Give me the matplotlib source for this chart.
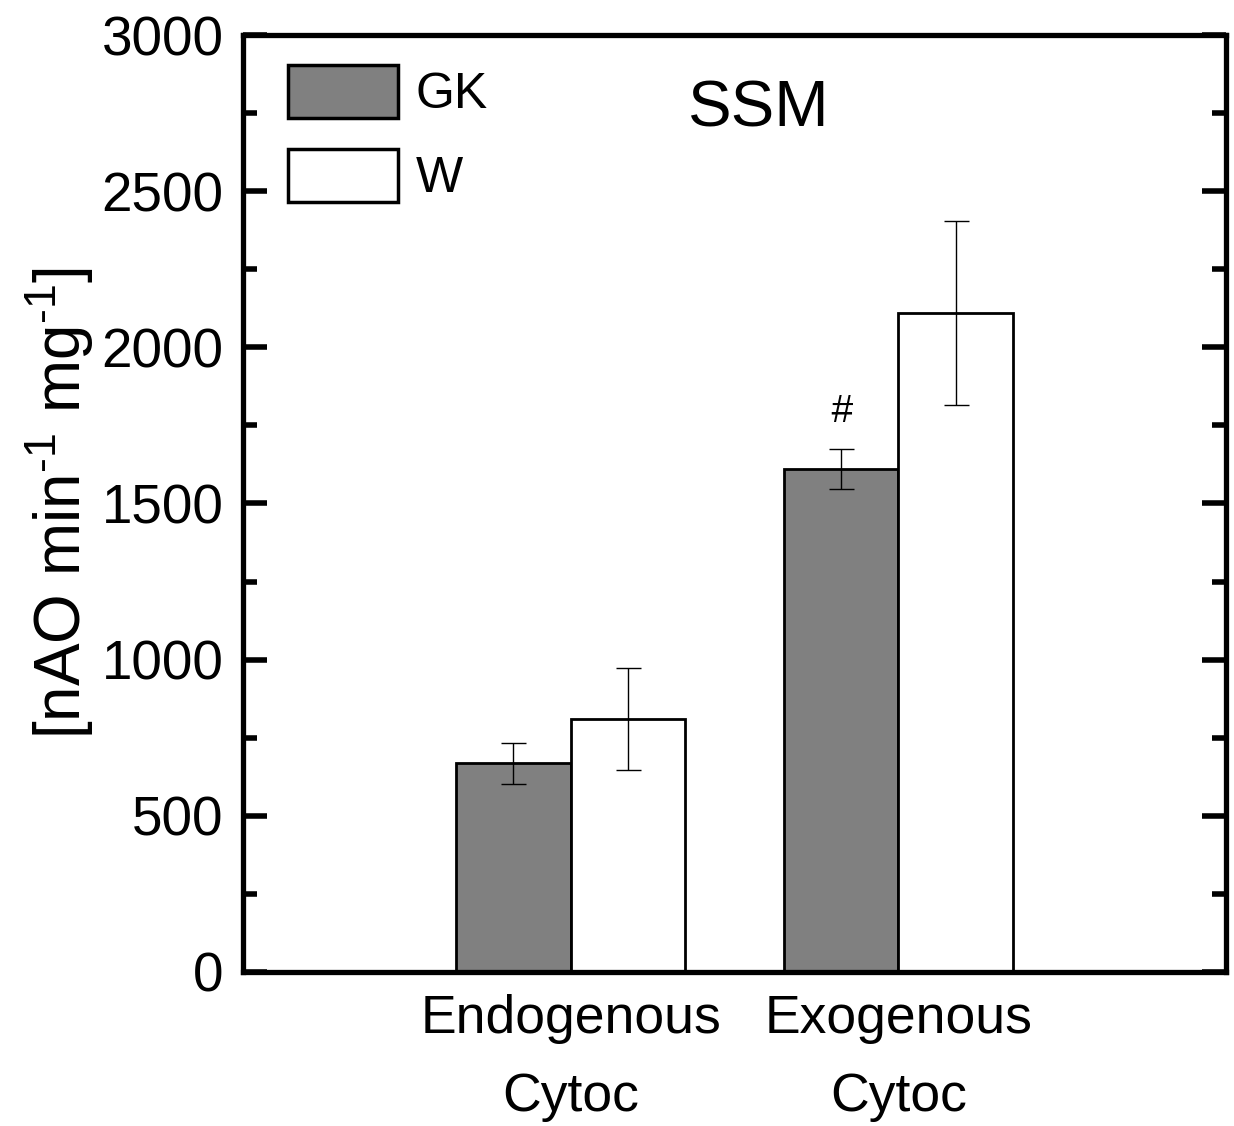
import matplotlib
matplotlib.use("Agg")
from matplotlib import pyplot as plt
from matplotlib.ticker import MultipleLocator
import numpy as np

plt.rcParams['font.family'] = ['Liberation Sans', 'DejaVu Sans']
plt.rcParams['mathtext.fontset'] = 'custom'
plt.rcParams['mathtext.rm'] = 'Liberation Sans'
plt.rcParams['mathtext.it'] = 'Liberation Sans:italic'

# data
categories = ["Endogenous\nCytoc", "Exogenous\nCytoc"]
gk_vals = [668, 1610]
gk_err = [65, 65]
w_vals = [810, 2110]
w_err = [163, 295]

x = np.array([1, 2])
width = 0.35

fig = plt.figure(figsize=(12.34, 11.26), dpi=100)
ax = fig.add_axes([0.197, 0.1368, 0.7966, 0.8321])

ax.bar(x - width / 2, gk_vals, width, color='#808080', edgecolor='black',
       linewidth=2, label='GK', zorder=2)
ax.bar(x + width / 2, w_vals, width, color='white', edgecolor='black',
       linewidth=2, label='W', zorder=2)
ax.errorbar(x - width / 2, gk_vals, yerr=gk_err, fmt='none', ecolor='black',
            elinewidth=1, capsize=9, capthick=1, zorder=3)
ax.errorbar(x + width / 2, w_vals, yerr=w_err, fmt='none', ecolor='black',
            elinewidth=1, capsize=9, capthick=1, zorder=3)

# significance mark
ax.text(x[1] - width / 2, gk_vals[1] + gk_err[1] + 60, '#', ha='center',
        va='bottom', fontsize=28, style='italic')

ax.text(1.575, 2760, 'SSM', ha='center', va='center', fontsize=47)

ax.set_xlim(0, 3)
ax.set_ylim(0, 3000)
ax.set_xticks(x)
ax.set_xticklabels(categories, linespacing=1.72)
ax.yaxis.set_major_locator(MultipleLocator(500))
ax.yaxis.set_minor_locator(MultipleLocator(250))
ax.tick_params(axis='x', length=0, pad=16, labelsize=38.5)
ax.tick_params(axis='y', which='major', direction='in', length=17, width=4,
               right=True, labelsize=39.5, pad=14)
ax.tick_params(axis='y', which='minor', direction='in', length=10, width=4,
               right=True)
for s in ax.spines.values():
    s.set_linewidth(3.8)

ax.set_ylabel(r'[nAO min$^{\text{-1}}$ mg$^{\text{-1}}$]', fontsize=46,
              labelpad=4)

leg = ax.legend(loc='upper left', frameon=False, fontsize=36,
                handlelength=2.2, handleheight=1.25, handletextpad=0.35,
                labelspacing=0.62, borderaxespad=0.3, borderpad=0.35,
                bbox_to_anchor=(0.013, 1.003))
for h in leg.legend_handles:
    h.set_linewidth(2.5)

fig.savefig('out.png', dpi=100)
